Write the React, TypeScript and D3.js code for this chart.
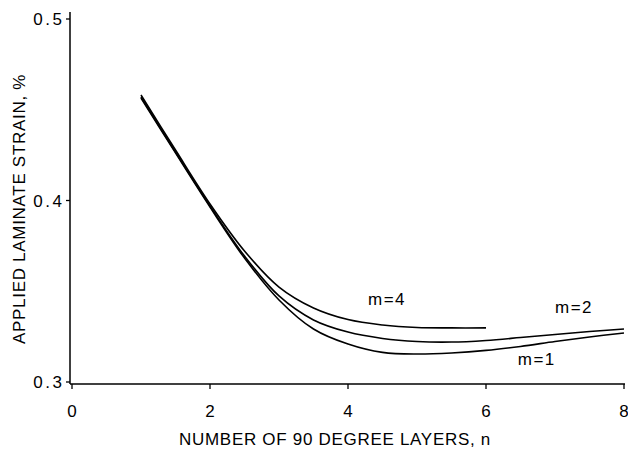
import React, { useEffect } from "react";
import * as d3 from "d3";

// Number of 90-degree layers
const layers = [1, 1.5, 2, 2.5, 3, 3.5, 4, 4.5, 5, 5.5, 6, 6.5, 7, 7.5, 8];

// Applied laminate strain (%) for each m
const strainM1 = [0.4565, 0.4262, 0.3964, 0.3683, 0.3452, 0.3292, 0.3209, 0.3163, 0.3154, 0.316, 0.3174, 0.3196, 0.3223, 0.3248, 0.327];
const strainM2 = [0.457, 0.4267, 0.397, 0.3694, 0.3474, 0.3342, 0.3275, 0.324, 0.3223, 0.322, 0.3229, 0.3245, 0.3262, 0.3278, 0.3292];
const strainM4 = [0.4581, 0.4278, 0.3981, 0.3722, 0.3523, 0.3408, 0.3344, 0.3314, 0.33, 0.3298, 0.3298];

const seriesNames = ["m=1", "m=2", "m=4"];
const xTicks = [0, 2, 4, 6, 8];
const yTicks = [0.3, 0.4, 0.5];

const W = 628;
const H = 449;
const FONT = "'Liberation Sans', Arial, Helvetica, sans-serif";

export default function App() {
  useEffect(() => {
    document.body.style.margin = "0";
  }, []);

  const x = d3.scaleLinear().domain([0, 8]).range([72, 624]);
  const y = d3.scaleLinear().domain([0.3, 0.5]).range([382, 19]);

  const series = [
    { name: seriesNames[0], values: strainM1 },
    { name: seriesNames[1], values: strainM2 },
    { name: seriesNames[2], values: strainM4 },
  ];

  const line = d3
    .line<[number, number]>()
    .x((d) => x(d[0]))
    .y((d) => y(d[1]))
    .curve(d3.curveCatmullRom.alpha(0.5));

  const axisLeft = 70;
  const axisBottom = 384;

  // label anchors in data units
  const labels = [
    { text: seriesNames[2], n: 4.29, v: 0.3425 },
    { text: seriesNames[1], n: 7.0, v: 0.3381 },
    { text: seriesNames[0], n: 6.46, v: 0.3094 },
  ];

  return (
    <svg width={W} height={H} style={{ display: "block", background: "#fff" }}>
      {/* axes */}
      <line x1={axisLeft} x2={axisLeft} y1={12} y2={axisBottom} stroke="#000" strokeWidth={1.5} />
      <line x1={axisLeft} x2={625} y1={axisBottom} y2={axisBottom} stroke="#000" strokeWidth={1.5} />

      {yTicks.map((t) => (
        <g key={"y" + t}>
          <line x1={axisLeft - 4} x2={axisLeft} y1={y(t)} y2={y(t)} stroke="#000" strokeWidth={1.3} />
          <text
            x={64.5}
            y={y(t)}
            dy="0.36em"
            textAnchor="end"
            fontFamily={FONT}
            fontSize={17}
            letterSpacing={2.5}
            fill="#000"
          >
            {t.toFixed(1)}
          </text>
        </g>
      ))}

      {xTicks.map((t) => (
        <g key={"x" + t}>
          <line x1={x(t)} x2={x(t)} y1={axisBottom} y2={axisBottom + 5} stroke="#000" strokeWidth={1.3} />
          <text
            x={x(t)}
            y={417}
            textAnchor="middle"
            fontFamily={FONT}
            fontSize={17}
            fill="#000"
          >
            {t}
          </text>
        </g>
      ))}

      {/* curves */}
      {series.map((s) => (
        <path
          key={s.name}
          d={line(s.values.map((v, i) => [layers[i], v] as [number, number])) || ""}
          fill="none"
          stroke="#000"
          strokeWidth={1.6}
        />
      ))}

      {labels.map((l) => (
        <text
          key={l.text}
          x={x(l.n)}
          y={y(l.v)}
          fontFamily={FONT}
          fontSize={17}
          letterSpacing={1.5}
          fill="#000"
        >
          {l.text}
        </text>
      ))}

      {/* axis titles */}
      <text
        x={335}
        y={445}
        textAnchor="middle"
        fontFamily={FONT}
        fontSize={17}
        letterSpacing={0.7}
        fill="#000"
      >
        NUMBER OF 90 DEGREE LAYERS, n
      </text>
      <text
        transform={`translate(25,209) rotate(-90)`}
        textAnchor="middle"
        fontFamily={FONT}
        fontSize={17}
        letterSpacing={0.7}
        fill="#000"
      >
        APPLIED LAMINATE STRAIN, %
      </text>
    </svg>
  );
}
